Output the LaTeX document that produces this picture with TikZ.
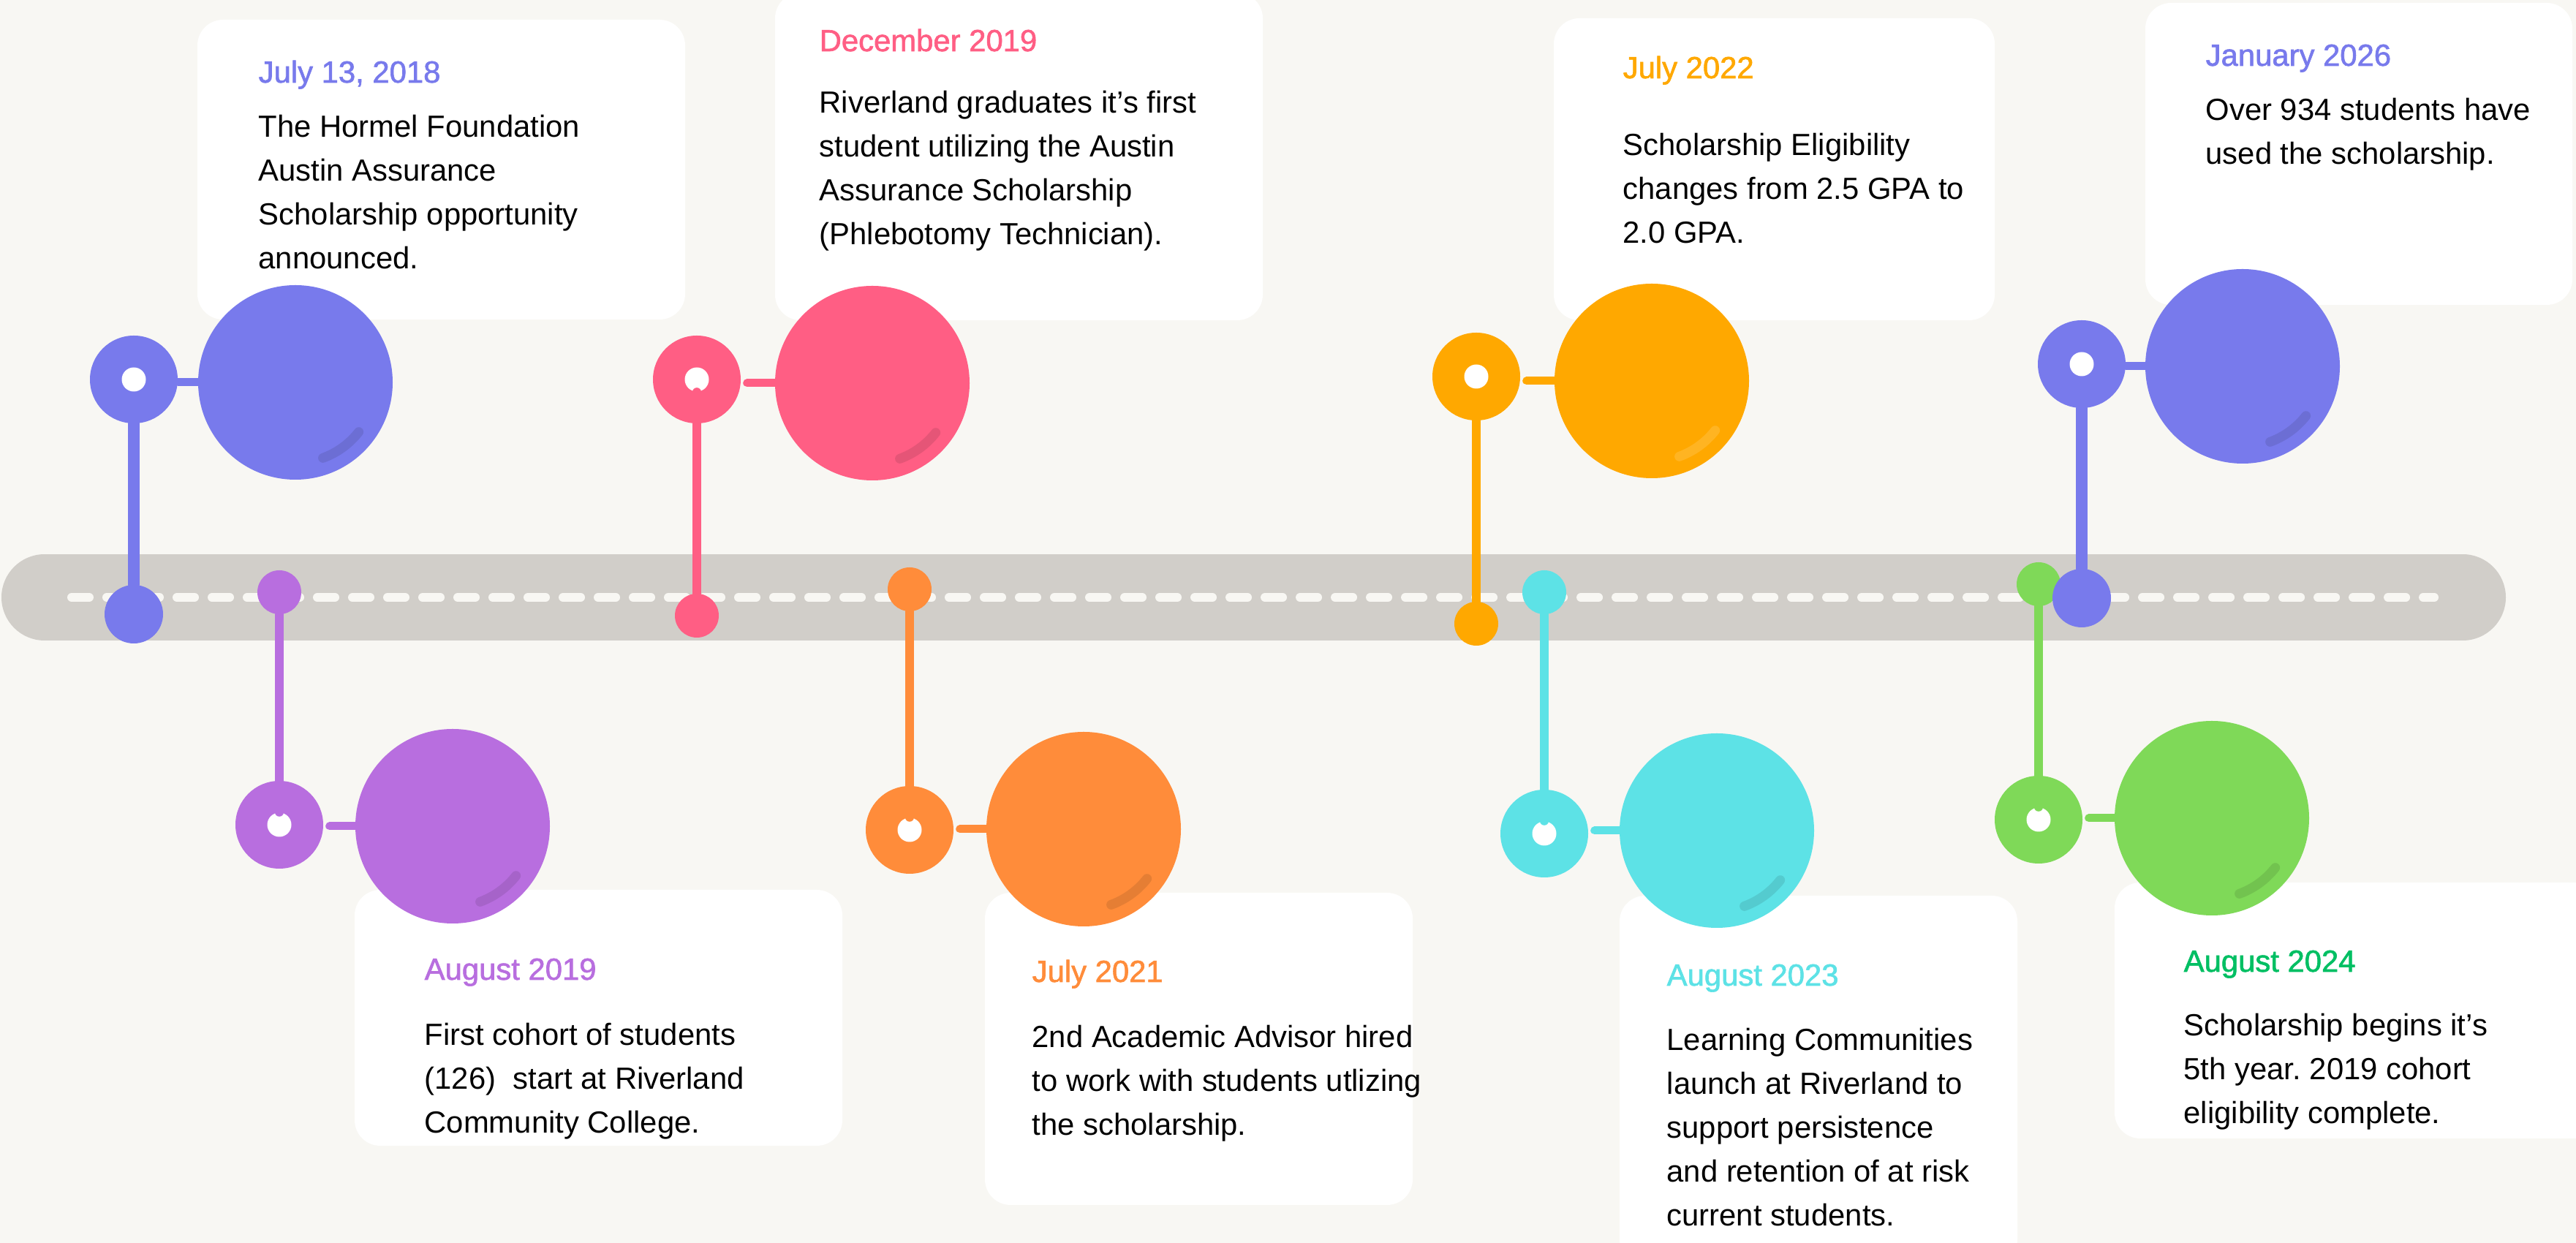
\documentclass[tikz,border=0pt]{standalone}
\usepackage{fontspec}
\setmainfont{Liberation Sans}
\newfontface\datefont[FakeBold=1.5]{Liberation Sans}
\usepackage{tikz}
\frenchspacing

\definecolor{bgpaper}{HTML}{F8F7F3}
\definecolor{bargray}{HTML}{D1CEC9}
\definecolor{evblue}{HTML}{787AEC}
\definecolor{evpurple}{HTML}{B86EDF}
\definecolor{evpink}{HTML}{FF5E84}
\definecolor{evorange}{HTML}{FF8C3A}
\definecolor{evyellow}{HTML}{FFA800}
\definecolor{evcyan}{HTML}{5DE2E6}
\definecolor{evgreen}{HTML}{7FD958}
\definecolor{evleaf}{HTML}{00BF63}
\definecolor{yellowshine}{HTML}{FFB422}

\newcommand\stack[1]{\begin{tabular}[t]{@{}l@{}}#1\end{tabular}}

\begin{document}
\begin{tikzpicture}[
		bardot/.style={circle, fill=#1, minimum size=0.6cm, inner sep=0pt},
		ring/.style={circle, fill=#1, minimum size=1.2cm, inner sep=0pt},
		hole/.style={circle, fill=white, minimum size=0.33cm, inner sep=0pt},
		ball/.style={circle, fill=#1, minimum size=2.66cm, inner sep=0pt},
		stem/.style={draw=#1, line width=0.12cm, line cap=round},
		link/.style={draw=#1, line width=0.11cm, line cap=round, shorten <=0.08cm},
		shine/.style={draw=#1, line width=0.13cm, line cap=round},
		card/.style={fill=white, rounded corners=0.35cm},
		date/.style={anchor=base west, inner sep=0pt, text=#1, font={\fontsize{11.9}{17.07}\datefont}},
		note/.style={anchor=base west, inner sep=0pt, font={\fontsize{11.9}{17.07}\selectfont}}
	]
		\useasboundingbox (0,0) rectangle (35.23,17);
		\clip (0,0) rectangle (35.23,17);
		\fill [bgpaper] (0,0) rectangle (35.23,17);

		\draw [bargray, line width=1.18cm, line cap=round] (0.61,8.83) -- (33.68,8.83);
		\draw [bgpaper, line width=0.12cm, line cap=round, dash pattern=on 0.24cm off 0.24cm] (0.98,8.83) -- (33.29,8.83);

		\fill [card] (2.70,16.73) rectangle (9.37,12.63);
		\fill [card] (4.85,4.83) rectangle (11.52,1.33);
		\fill [card] (10.60,17.10) rectangle (17.27,12.62);
		\fill [card] (13.47,4.79) rectangle (19.32,0.52);
		\fill [card] (21.25,16.75) rectangle (27.28,12.62);
		\fill [card] (22.15,4.75) rectangle (27.59,-0.30);
		\fill [card] (28.92,4.93) rectangle (35.60,1.43);
		\fill [card] (29.34,16.96) rectangle (35.18,12.83);

		\node [date=evblue] (tA) at (3.53,15.87) {July 13, 2018};
		\node [note] (nA) at (3.53,15.12) {\stack{The Hormel Foundation\\Austin Assurance\\Scholarship opportunity\\announced.}};
		\node [date=evpurple] (tB) at (5.80,3.60) {August 2019};
		\node [note] (nB) at (5.80,2.70) {\stack{First cohort of students\\(126)\ \ start at Riverland\\Community College.}};
		\node [date=evpink] (tC) at (11.20,16.30) {December 2019};
		\node [note] (nC) at (11.20,15.45) {\stack{Riverland graduates it’s first\\student utilizing the Austin\\Assurance Scholarship\\(Phlebotomy Technician).}};
		\node [date=evorange] (tD) at (14.11,3.57) {July 2021};
		\node [note] (nD) at (14.11,2.67) {\stack{2nd Academic Advisor hired\\to work with students utlizing\\the scholarship.}};
		\node [date=evyellow] (tE) at (22.19,15.93) {July 2022};
		\node [note] (nE) at (22.19,14.87) {\stack{Scholarship Eligibility\\changes from 2.5 GPA to\\2.0 GPA.}};
		\node [date=evcyan] (tF) at (22.79,3.52) {August 2023};
		\node [note] (nF) at (22.79,2.63) {\stack{Learning Communities\\launch at Riverland to\\support persistence\\and retention of at risk\\current students.}};
		\node [date=evleaf] (tG) at (29.86,3.71) {August 2024};
		\node [note] (nG) at (29.86,2.83) {\stack{Scholarship begins it’s\\5th year. 2019 cohort\\eligibility complete.}};
		\node [date=evblue] (tH) at (30.16,16.10) {January 2026};
		\node [note] (nH) at (30.16,15.35) {\stack{Over 934 students have\\used the scholarship.}};

		\node [bardot=evblue, minimum size=0.8cm] (dA) at (1.83,8.60) {};
		\node [ring=evblue] (rA) at (1.83,11.81) {};
		\node [hole] (hA) at (rA) {};
		\draw [stem=evblue, line width=0.16cm] (dA) -- (rA);
		\node [ball=evblue] (bA) at (4.04,11.77) {};
		\draw [link=evblue, shorten <=0pt] (rA.east |- bA) -- (bA);
		\draw [shine=evblue!90!black] ([shift={(-38:1.10)}]bA.center) arc [start angle=-38, end angle=-70, radius=1.10];

		\node [bardot=evpurple] (dB) at (3.82,8.90) {};
		\node [ring=evpurple] (rB) at (3.82,5.72) {};
		\node [hole] (hB) at (rB) {};
		\draw [stem=evpurple] (dB) -- (hB.north);
		\node [ball=evpurple] (bB) at (6.19,5.70) {};
		\draw [link=evpurple] (rB.east |- bB) -- (bB);
		\draw [shine=evpurple!90!black] ([shift={(-38:1.10)}]bB.center) arc [start angle=-38, end angle=-70, radius=1.10];

		\node [bardot=evpink] (dC) at (9.53,8.58) {};
		\node [ring=evpink] (rC) at (9.53,11.81) {};
		\node [hole] (hC) at (rC) {};
		\draw [stem=evpink] (dC) -- (hC.south);
		\node [ball=evpink] (bC) at (11.93,11.76) {};
		\draw [link=evpink] (rC.east |- bC) -- (bC);
		\draw [shine=evpink!90!black] ([shift={(-38:1.10)}]bC.center) arc [start angle=-38, end angle=-70, radius=1.10];

		\node [bardot=evorange] (dD) at (12.44,8.94) {};
		\node [ring=evorange] (rD) at (12.44,5.65) {};
		\node [hole] (hD) at (rD) {};
		\draw [stem=evorange] (dD) -- (hD.north);
		\node [ball=evorange] (bD) at (14.82,5.66) {};
		\draw [link=evorange] (rD.east |- bD) -- (bD);
		\draw [shine=evorange!90!black] ([shift={(-38:1.10)}]bD.center) arc [start angle=-38, end angle=-70, radius=1.10];

		\node [bardot=evyellow] (dE) at (20.19,8.47) {};
		\node [ring=evyellow] (rE) at (20.19,11.85) {};
		\node [hole] (hE) at (rE) {};
		\draw [stem=evyellow] (dE) -- (rE);
		\node [ball=evyellow] (bE) at (22.59,11.79) {};
		\draw [link=evyellow] (rE.east |- bE) -- (bE);
		\draw [shine=yellowshine] ([shift={(-38:1.10)}]bE.center) arc [start angle=-38, end angle=-70, radius=1.10];

		\node [bardot=evcyan] (dF) at (21.12,8.90) {};
		\node [ring=evcyan] (rF) at (21.12,5.60) {};
		\node [hole] (hF) at (rF) {};
		\draw [stem=evcyan] (dF) -- (hF.north);
		\node [ball=evcyan] (bF) at (23.48,5.64) {};
		\draw [link=evcyan] (rF.east |- bF) -- (bF);
		\draw [shine=evcyan!90!black] ([shift={(-38:1.10)}]bF.center) arc [start angle=-38, end angle=-70, radius=1.10];

		\node [bardot=evgreen] (dG) at (27.88,9.01) {};
		\node [ring=evgreen] (rG) at (27.88,5.79) {};
		\node [hole] (hG) at (rG) {};
		\draw [stem=evgreen] (dG) -- (hG.north);
		\node [ball=evgreen] (bG) at (30.25,5.81) {};
		\draw [link=evgreen] (rG.east |- bG) -- (bG);
		\draw [shine=evgreen!90!black] ([shift={(-38:1.10)}]bG.center) arc [start angle=-38, end angle=-70, radius=1.10];

		\node [bardot=evblue, minimum size=0.8cm] (dH) at (28.47,8.82) {};
		\node [ring=evblue] (rH) at (28.47,12.02) {};
		\node [hole] (hH) at (rH) {};
		\draw [stem=evblue, line width=0.16cm] (dH) -- (rH);
		\node [ball=evblue] (bH) at (30.67,11.99) {};
		\draw [link=evblue, shorten <=0pt] (rH.east |- bH) -- (bH);
		\draw [shine=evblue!90!black] ([shift={(-38:1.10)}]bH.center) arc [start angle=-38, end angle=-70, radius=1.10];
\end{tikzpicture}
\end{document}
